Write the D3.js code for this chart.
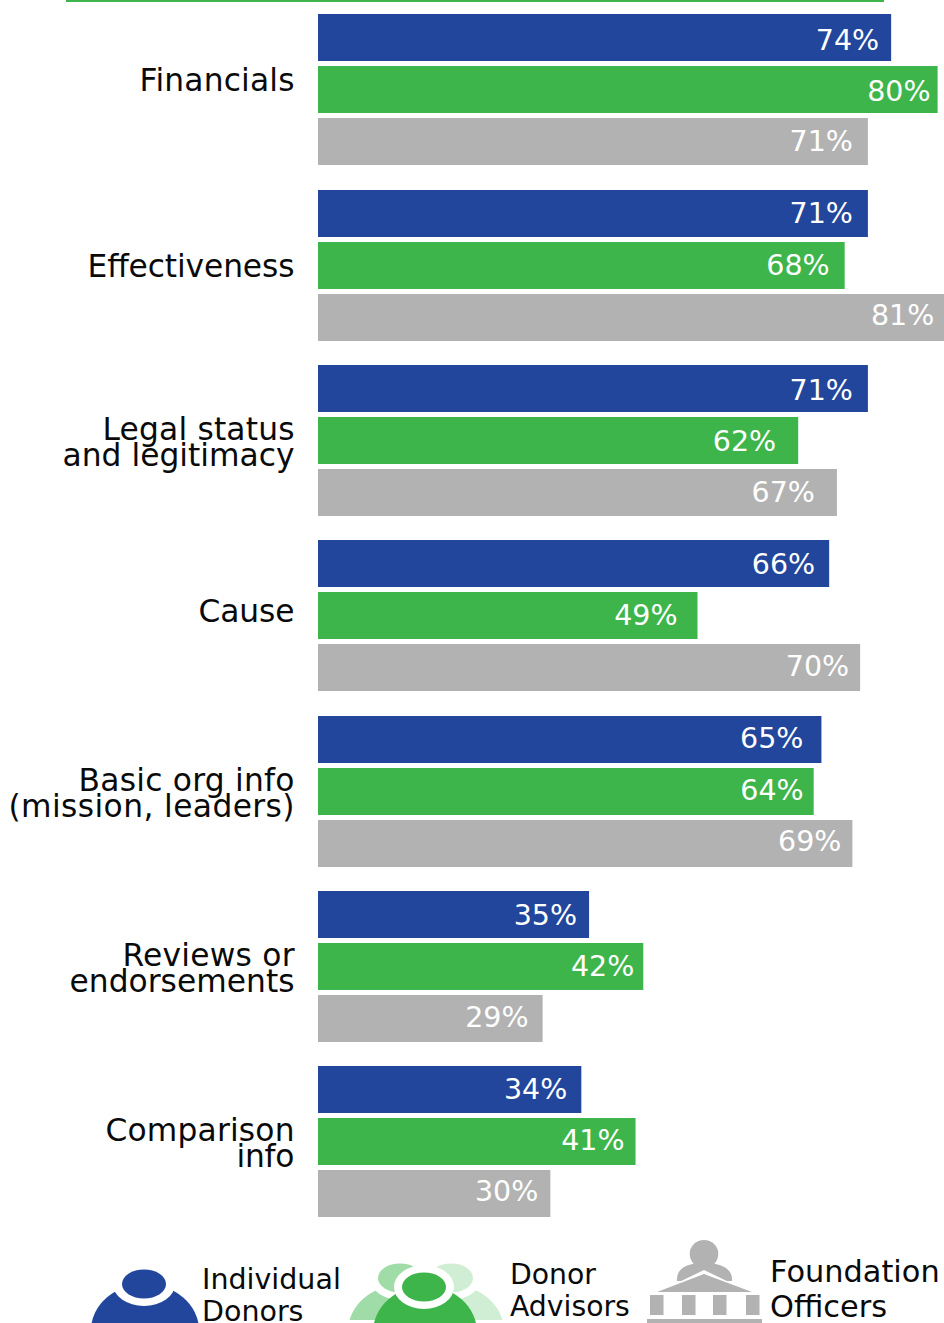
<!DOCTYPE html>
<html>
<head>
<meta charset="utf-8">
<script src="https://cdn.jsdelivr.net/npm/d3@7"></script>
<style>
  html, body { margin: 0; padding: 0; background: #fff; }
  svg { display: block; }
  text { font-family: "DejaVu Sans", Verdana, sans-serif; }
</style>
</head>
<body>
<div id="chart"></div>
<script>
// Share of respondents rating each information type as important
const categories = ["Financials", "Effectiveness", "Legal status|and legitimacy", "Cause",
  "Basic org info|(mission, leaders)", "Reviews or|endorsements", "Comparison|info"];
const seriesNames = ["Individual Donors", "Donor Advisors", "Foundation Officers"];
const individualDonors = [74, 71, 71, 66, 65, 35, 34];
const donorAdvisors = [80, 68, 62, 49, 64, 42, 41];
const foundationOfficers = [71, 81, 67, 70, 69, 29, 30];
const seriesValues = [individualDonors, donorAdvisors, foundationOfficers];
const seriesColors = ["#21469b", "#3db54a", "#b2b2b2"];

// Hand-tuned label placement: gap to the bar end and baseline nudge, per series
const valueLabelGaps = [
  [12, 15, 15, 14, 18, 12, 14],
  [7, 15, 22, 20, 10, 9, 11],
  [15, 11, 22, 11, 11, 14, 12]
];
const valueLabelNudges = [
  [2, -1, 1, 0, -2, 0, -1],
  [1, -1, 0, -1, -2, -1, -2],
  [-1, -3, -1, -2, -3, -2, -3]
];
const categoryBaselineShift = [1, 12, 0, 6, 0, 0, -1];
// Rendered widths of the category label lines
const categoryLineWidths = [[155], [207], [192, 232], [96], [216, 286], [172, 225], [189, 58]];

const width = 944, height = 1323;
const svg = d3.select("#chart").append("svg")
  .attr("width", width).attr("height", height)
  .attr("viewBox", [0, 0, width, height]);

const x = d3.scaleLinear().domain([0, 100]).range([318, 1092.5]);
const y0 = d3.scaleBand().domain(d3.range(categories.length))
  .range([14.2, 1217.2]).paddingInner(0.14).paddingOuter(0);
const y1 = d3.scaleBand().domain(d3.range(3))
  .range([0, y0.bandwidth()]).paddingInner(0.1);
const barHeight = Math.round(y1.bandwidth());

// Accent rule along the top edge
svg.append("rect").attr("x", 66).attr("y", 0).attr("width", 818).attr("height", 2)
  .attr("fill", seriesColors[1]);

const groups = svg.selectAll("g.group").data(categories).join("g").attr("class", "group");

seriesValues.forEach((vals, s) => {
  const top = i => Math.round(y0(i) + y1(s));
  groups.append("rect")
    .attr("x", x(0))
    .attr("y", (d, i) => top(i))
    .attr("width", (d, i) => x(vals[i]) - x(0))
    .attr("height", barHeight)
    .attr("fill", seriesColors[s]);
  groups.append("text")
    .attr("x", (d, i) => x(vals[i]) - valueLabelGaps[s][i])
    .attr("y", (d, i) => top(i) + barHeight / 2 + 10 + valueLabelNudges[s][i])
    .attr("text-anchor", "end")
    .attr("font-size", 28.5)
    .attr("fill", "#fff")
    .text((d, i) => vals[i] + "%");
});

// Category labels, right aligned against the bars
groups.each(function (d, i) {
  const lines = d.split("|");
  const g = d3.select(this);
  const mid = y0(i) + y0.bandwidth() / 2;
  lines.forEach((line, k) => {
    g.append("text")
      .attr("x", 294.5)
      .attr("y", mid + categoryBaselineShift[i] + (k - (lines.length - 1)) * 26 + (lines.length > 1 ? 26 : 0))
      .attr("text-anchor", "end")
      .attr("font-size", 31.3)
      .attr("textLength", categoryLineWidths[i][k])
      .attr("lengthAdjust", "spacing")
      .attr("fill", "#0a0a0a")
      .text(line);
  });
});

// Legend pictograms
const legend = svg.append("g").attr("class", "legend");
function ell(parent, cx, cy, rx, ry, fill) {
  return parent.append("ellipse").attr("cx", cx).attr("cy", cy).attr("rx", rx).attr("ry", ry).attr("fill", fill);
}
const defs = svg.append("defs");
defs.append("clipPath").attr("id", "legend-clip")
  .append("rect").attr("x", 340).attr("y", 1230).attr("width", 180).attr("height", 90);

// Single person
ell(legend, 145, 1330, 54, 46, seriesColors[0]);
ell(legend, 144, 1284, 31, 22, "#fff");
ell(legend, 144, 1284, 22, 14.5, seriesColors[0]);

// Group of three people
const advisors = legend.append("g").attr("clip-path", "url(#legend-clip)");
ell(advisors, 451, 1331, 53, 46, "#cfeed3");
ell(advisors, 451, 1278, 30, 22, "#fff");
ell(advisors, 451, 1278, 22, 14.5, "#cfeed3");
ell(advisors, 401, 1331, 53, 46, "#a0dca8");
ell(advisors, 400, 1278, 30, 22, "#fff");
ell(advisors, 400, 1278, 22, 14.5, "#a0dca8");
ell(legend, 425, 1332, 52, 46, seriesColors[1]);
ell(legend, 424, 1287, 30, 22, "#fff");
ell(legend, 424, 1287, 22, 14.5, seriesColors[1]);

// Foundation building with a person behind it
const grey = seriesColors[2];
ell(legend, 704, 1254, 14.3, 14, grey);
legend.append("path").attr("fill", grey)
  .attr("d", "M677,1281 C676,1269 686,1263 704,1263 C722,1263 733,1269 732,1281 Z");
legend.append("path").attr("fill", "#fff").attr("d", "M650,1296 L704,1270 L758,1296 Z");
legend.append("path").attr("fill", grey).attr("d", "M657,1292 L704,1274 L752,1292 Z");
[650, 682, 713, 746].forEach(cx => {
  legend.append("rect").attr("x", cx).attr("y", 1295).attr("width", 13.5).attr("height", 20).attr("fill", grey);
});
legend.append("rect").attr("x", 647).attr("y", 1319).attr("width", 115).attr("height", 4).attr("fill", grey);

const legendLabels = [
  { lines: ["Individual", "Donors"], x: 202, ys: [1288.5, 1321], size: 28.5 },
  { lines: ["Donor", "Advisors"], x: 510, ys: [1284, 1316], size: 28.3 },
  { lines: ["Foundation", "Officers"], x: 770, ys: [1282, 1317], size: 30.4 }
];
legendLabels.forEach(l => l.lines.forEach((t, i) => {
  legend.append("text").attr("x", l.x).attr("y", l.ys[i])
    .attr("font-size", l.size).attr("fill", "#0a0a0a").text(t);
}));
</script>
</body>
</html>
